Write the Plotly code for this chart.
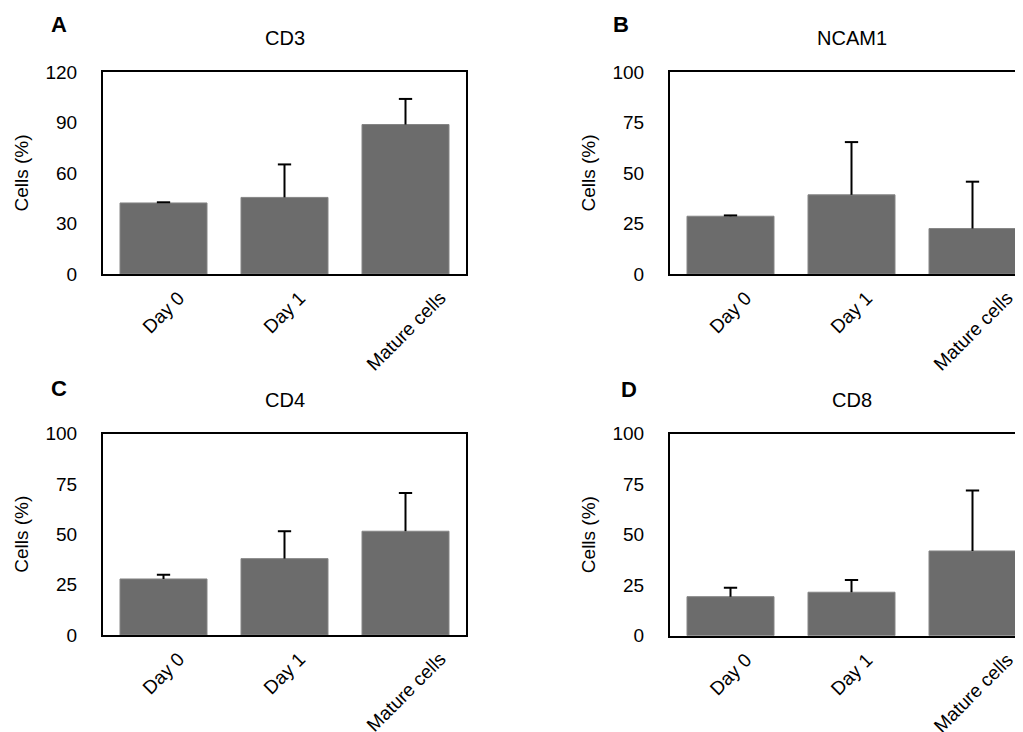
import plotly.graph_objects as go

categories = ["Day 0", "Day 1", "Mature cells"]

cd3_values = [42.2, 45.5, 88.8]
cd3_errors = [0.4, 19.6, 15.2]

ncam1_values = [28.6, 39.2, 22.5]
ncam1_errors = [0.4, 26.1, 23.2]

cd4_values = [27.8, 37.9, 51.5]
cd4_errors = [2.1, 13.6, 19.0]

cd8_values = [19.3, 21.5, 41.9]
cd8_errors = [4.4, 6.1, 29.9]

panel_letters = ["A", "B", "C", "D"]
panel_titles = ["CD3", "NCAM1", "CD4", "CD8"]
y_title = "Cells (%)"

W, H = 1023, 732
OFF = 8  # page body margin offset in the browser
FONT = "Liberation Sans, Arial, sans-serif"
BAR_COLOR = "#6c6c6c"
CAP_HALF = 0.055  # cap half-width in category units
UNIT_PX = 121.0

# plot-area boxes in screen pixels: (left, top, bottom)
panels = [
    dict(vals=cd3_values, errs=cd3_errors, left=103, top=72, bottom=274, yr=[0, 120], dt=30, box=True),
    dict(vals=ncam1_values, errs=ncam1_errors, left=670, top=72, bottom=274, yr=[0, 100], dt=25, box=False),
    dict(vals=cd4_values, errs=cd4_errors, left=103, top=433.5, bottom=635, yr=[0, 100], dt=25, box=True),
    dict(vals=cd8_values, errs=cd8_errors, left=670, top=433.5, bottom=635.7, yr=[0, 100], dt=25, box=False),
]

xpos = list(range(len(categories)))


def fx(px):
    return (px - OFF) / W


def fy(py):
    return 1 - (py - OFF) / H


fig = go.Figure()
layout = dict(
    width=W, height=H, margin=dict(l=0, r=0, t=0, b=0, autoexpand=False),
    paper_bgcolor="white", plot_bgcolor="white", showlegend=False,
    bargap=0.281, font=dict(family=FONT, size=19, color="black"),
)
annotations = []
for i, p in enumerate(panels):
    n = i + 1
    xa = "x" if n == 1 else f"x{n}"
    ya = "y" if n == 1 else f"y{n}"
    fig.add_trace(go.Bar(
        x=xpos, y=p["vals"], xaxis=xa, yaxis=ya,
        marker=dict(color=BAR_COLOR, line=dict(color="#858585", width=1)),
        hovertext=categories,
    ))
    # upper-only error bars: stem from bar top to value+error, plus a cap
    ex, ey = [], []
    for xi, v, e in zip(xpos, p["vals"], p["errs"]):
        top = v + e
        ex += [xi, xi, None, xi - CAP_HALF, xi + CAP_HALF, None]
        ey += [v, top, None, top, top, None]
    fig.add_trace(go.Scatter(
        x=ex, y=ey, xaxis=xa, yaxis=ya, mode="lines",
        line=dict(color="black", width=2), hoverinfo="skip",
    ))
    x0 = p["left"]
    if p["box"]:
        x1 = x0 + 3 * UNIT_PX
    else:
        x1 = W + OFF  # plot runs off the right edge of the page
    xrange_max = (x1 - x0) / UNIT_PX - 0.5
    layout[f"xaxis{n if n > 1 else ''}"] = dict(
        domain=[fx(x0), min(fx(x1), 1.0)], anchor=ya, range=[-0.5, xrange_max],
        tickmode="array", tickvals=xpos, ticktext=categories, showticklabels=False,
        showline=True, linecolor="black", linewidth=2, mirror=True,
        showgrid=False, zeroline=False, automargin=False, ticks="",
    )
    layout[f"yaxis{n if n > 1 else ''}"] = dict(
        domain=[fy(p["bottom"]), fy(p["top"])], anchor=xa, range=p["yr"], dtick=p["dt"],
        showline=True, linecolor="black", linewidth=2, mirror=p["box"],
        showgrid=False, zeroline=False, automargin=False,
        ticks="outside", ticklen=20, tickcolor="rgba(0,0,0,0)",
        tickfont=dict(family=FONT, size=19, color="black"),
        title=dict(text=y_title, font=dict(family=FONT, size=19, color="black"), standoff=12),
    )
    # rotated category labels, centred under each bar
    for xi, cat in zip(xpos, categories):
        annotations.append(dict(
            text=cat, x=xi, y=0, xref=xa, yref=f"{ya} domain",
            xanchor="center", yanchor="top", yshift=-11, textangle=-45,
            showarrow=False, font=dict(family=FONT, size=19, color="black"),
        ))
    cx = fx(x0 + 3 * UNIT_PX / 2)
    annotations.append(dict(
        text=panel_titles[i], x=cx, y=fy(p["top"] - 34), xref="paper", yref="paper",
        xanchor="center", yanchor="middle", showarrow=False,
        font=dict(family=FONT, size=20, color="black"),
    ))
letter_pos = [(59, 24), (621, 24), (59, 388), (629, 389)]
for L, (lx, ly) in zip(panel_letters, letter_pos):
    annotations.append(dict(
        text=f"<b>{L}</b>", x=fx(lx), y=fy(ly), xref="paper", yref="paper",
        xanchor="center", yanchor="middle", showarrow=False,
        font=dict(family=FONT, size=22, color="black"),
    ))
layout["annotations"] = annotations
fig.update_layout(**layout)
fig.write_html("out.html")
